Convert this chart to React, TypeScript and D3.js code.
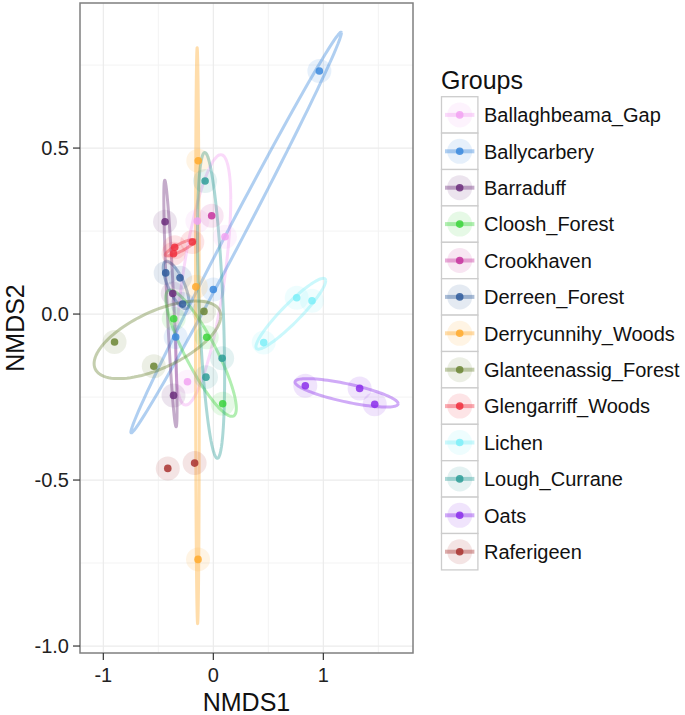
import React from "react";
import * as d3 from "d3";

// ---- data ----
const groups = [
  "Ballaghbeama_Gap", "Ballycarbery", "Barraduff", "Cloosh_Forest", "Crookhaven",
  "Derreen_Forest", "Derrycunnihy_Woods", "Glanteenassig_Forest", "Glengarriff_Woods",
  "Lichen", "Lough_Currane", "Oats", "Raferigeen",
];
const groupColors = [
  "#F2A2F2", "#3A88DD", "#6B2D7B", "#3CD43C", "#C6339E",
  "#2F5C9C", "#FFAA2E", "#6B8534", "#F0303E",
  "#7CEEF8", "#2E9E98", "#8A2EEA", "#A8322F",
];
const sampleGroup = [
  "Ballaghbeama_Gap", "Ballaghbeama_Gap", "Ballaghbeama_Gap",
  "Ballycarbery", "Ballycarbery", "Ballycarbery",
  "Barraduff", "Barraduff", "Barraduff",
  "Cloosh_Forest", "Cloosh_Forest", "Cloosh_Forest",
  "Crookhaven",
  "Derreen_Forest", "Derreen_Forest", "Derreen_Forest",
  "Derrycunnihy_Woods", "Derrycunnihy_Woods", "Derrycunnihy_Woods",
  "Glanteenassig_Forest", "Glanteenassig_Forest", "Glanteenassig_Forest",
  "Glengarriff_Woods", "Glengarriff_Woods", "Glengarriff_Woods",
  "Lichen", "Lichen", "Lichen",
  "Lough_Currane", "Lough_Currane", "Lough_Currane",
  "Oats", "Oats", "Oats",
  "Raferigeen", "Raferigeen",
];
const nmds1 = [
  -0.145, 0.106, -0.235,
  0.964, 0.0, -0.342,
  -0.439, -0.369, -0.362,
  -0.36, -0.06, 0.085,
  -0.015,
  -0.433, -0.303, -0.279,
  -0.137, -0.159, -0.139,
  -0.898, -0.541, -0.085,
  -0.191, -0.351, -0.362,
  0.758, 0.897, 0.458,
  -0.075, 0.08, -0.067,
  0.836, 1.33, 1.467,
  -0.414, -0.17,
];
const nmds2 = [
  0.28, 0.233, -0.204,
  0.732, 0.074, -0.069,
  0.278, 0.062, -0.245,
  -0.014, -0.07, -0.27,
  0.296,
  0.124, 0.109, 0.03,
  0.462, 0.082, -0.739,
  -0.084, -0.157, 0.008,
  0.217, 0.201, 0.182,
  0.049, 0.04, -0.086,
  0.401, -0.133, -0.19,
  -0.216, -0.224, -0.272,
  -0.465, -0.449,
];
const xLimits = [-1.212, 1.815];
const yLimits = [-1.021, 0.937];
const xTicks = [-1, 0, 1];
const yTicks = [-1, -0.5, 0, 0.5];
const xMinor = [-0.5, 0.5, 1.5];
const yMinor = [-0.75, -0.25, 0.25, 0.75];
const ellipseConf = 0.95;

// ---- layout ----
const W = 685, H = 715;
const P = { left: 80, right: 413, top: 3, bottom: 653 };
const FONT = "Arial, 'Liberation Sans', Helvetica, sans-serif";

function ellipsePoints(xs: number[], ys: number[]): [number, number][] {
  const n = xs.length;
  const mx = d3.mean(xs)!, my = d3.mean(ys)!;
  let sxx = 0, sxy = 0, syy = 0;
  for (let i = 0; i < n; i++) {
    sxx += (xs[i] - mx) ** 2;
    sxy += (xs[i] - mx) * (ys[i] - my);
    syy += (ys[i] - my) ** 2;
  }
  // standard-error covariance
  const a = sxx / (n - 1) / n, b = sxy / (n - 1) / n, c = syy / (n - 1) / n;
  const scale = Math.sqrt(-2 * Math.log(1 - ellipseConf)); // sqrt(qchisq(conf,2))
  const r11 = Math.sqrt(a);
  const r12 = b / r11;
  const r22 = Math.sqrt(Math.max(c - r12 * r12, 0));
  const pts: [number, number][] = [];
  for (let k = 0; k <= 100; k++) {
    const t = (k / 100) * 2 * Math.PI;
    const cs = Math.cos(t), sn = Math.sin(t);
    pts.push([mx + scale * cs * r11, my + scale * (cs * r12 + sn * r22)]);
  }
  return pts;
}

export default function App() {
  const x = d3.scaleLinear().domain(xLimits).range([P.left, P.right]);
  const y = d3.scaleLinear().domain(yLimits).range([P.bottom, P.top]);
  const color = d3.scaleOrdinal<string, string>().domain(groups).range(groupColors);
  const line = d3.line<[number, number]>().x((d) => x(d[0])).y((d) => y(d[1]));

  const pts = nmds1.map((v, i) => ({ x: v, y: nmds2[i], g: sampleGroup[i] }));
  const ellipses = groups
    .map((g) => {
      const sel = pts.filter((p) => p.g === g);
      if (sel.length < 3) return null;
      return { g, path: line(ellipsePoints(sel.map((p) => p.x), sel.map((p) => p.y)))! };
    })
    .filter(Boolean) as { g: string; path: string }[];

  const keySize = 36.4;
  const keyX = 441.5;
  const keyY0 = 96.7;

  return (
    <svg width={W} height={H} style={{ position: "absolute", left: 0, top: 0, display: "block", background: "#fff" }}
      fontFamily={FONT}>
      <rect x={0} y={0} width={W} height={H} fill="#fff" />
      {/* grid */}
      <g>
        {xMinor.map((t) => (
          <line key={"xm" + t} x1={x(t)} x2={x(t)} y1={P.top} y2={P.bottom} stroke="#F3F3F3" strokeWidth={1} />
        ))}
        {yMinor.map((t) => (
          <line key={"ym" + t} x1={P.left} x2={P.right} y1={y(t)} y2={y(t)} stroke="#F3F3F3" strokeWidth={1} />
        ))}
        {xTicks.map((t) => (
          <line key={"xM" + t} x1={x(t)} x2={x(t)} y1={P.top} y2={P.bottom} stroke="#EBEBEB" strokeWidth={1.2} />
        ))}
        {yTicks.map((t) => (
          <line key={"yM" + t} x1={P.left} x2={P.right} y1={y(t)} y2={y(t)} stroke="#EBEBEB" strokeWidth={1.2} />
        ))}
      </g>
      {/* ellipses */}
      <g fill="none" strokeWidth={3} strokeOpacity={0.4} strokeLinejoin="round">
        {ellipses.map((e) => (
          <path key={e.g} d={e.path} stroke={color(e.g)} />
        ))}
      </g>
      {/* halos */}
      <g>
        {pts.map((p, i) => (
          <circle key={"h" + i} cx={x(p.x)} cy={y(p.y)} r={12} fill={color(p.g)} fillOpacity={0.13} />
        ))}
      </g>
      {/* dots */}
      <g>
        {pts.map((p, i) => (
          <circle key={"d" + i} cx={x(p.x)} cy={y(p.y)} r={3.8} fill={color(p.g)} fillOpacity={0.85} />
        ))}
      </g>
      {/* panel border */}
      <rect x={P.left} y={P.top} width={P.right - P.left} height={P.bottom - P.top} fill="none" stroke="#7F7F7F" strokeWidth={1.5} />
      {/* axes ticks */}
      <g>
        {xTicks.map((t) => (
          <g key={"xt" + t}>
            <line x1={x(t)} x2={x(t)} y1={P.bottom} y2={P.bottom + 7} stroke="#333" strokeWidth={1.2} />
            <text x={x(t)} y={682} textAnchor="middle" fontSize={20} fill="#222">{String(t)}</text>
          </g>
        ))}
        {yTicks.map((t) => (
          <g key={"yt" + t}>
            <line x1={P.left - 7} x2={P.left} y1={y(t)} y2={y(t)} stroke="#333" strokeWidth={1.2} />
            <text x={69} y={y(t) + 7.2} textAnchor="end" fontSize={20} fill="#222">{t.toFixed(1)}</text>
          </g>
        ))}
      </g>
      {/* axis titles */}
      <text x={(P.left + P.right) / 2} y={711} textAnchor="middle" fontSize={25} fill="#111">NMDS1</text>
      <text transform={`translate(24,${(P.top + P.bottom) / 2}) rotate(-90)`} textAnchor="middle" fontSize={25} fill="#111">NMDS2</text>
      {/* legend */}
      <text x={441} y={89} fontSize={25} fill="#111">Groups</text>
      {groups.map((g, i) => {
        const ky = keyY0 + i * keySize;
        const cx = keyX + keySize / 2;
        const cy = ky + keySize / 2;
        return (
          <g key={"lg" + g}>
            <rect x={keyX} y={ky} width={keySize} height={keySize} fill="#fff" stroke="#CCCCCC" strokeWidth={1.3} />
            <line x1={keyX + 3.5} x2={keyX + keySize - 3.5} y1={cy} y2={cy} stroke={color(g)} strokeOpacity={0.4} strokeWidth={4} />
            <circle cx={cx} cy={cy} r={12.5} fill={color(g)} fillOpacity={0.13} />
            <circle cx={cx} cy={cy} r={3.8} fill={color(g)} fillOpacity={0.85} />
            <text x={484} y={cy + 7.2} fontSize={20} fill="#111">{g}</text>
          </g>
        );
      })}
    </svg>
  );
}
